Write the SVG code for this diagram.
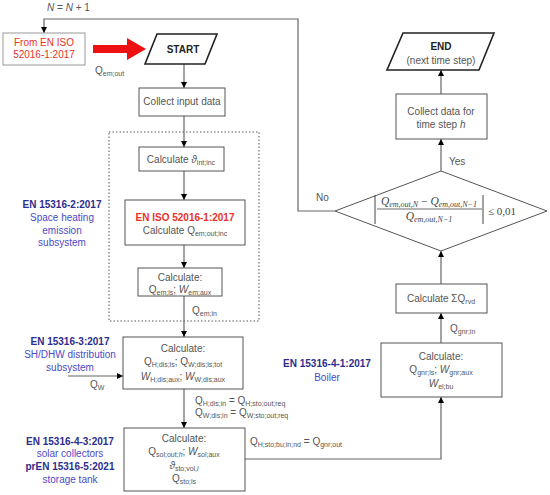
<svg xmlns="http://www.w3.org/2000/svg" width="550" height="495" viewBox="0 0 550 495">
<defs>
<marker id="ah" viewBox="0 0 10 10" refX="10" refY="5" markerWidth="6" markerHeight="6" orient="auto" markerUnits="userSpaceOnUse"><path d="M0,0 L10,5 L0,10 z" fill="#000"/></marker>
<style>
text{font-family:"Liberation Sans",Arial,sans-serif;font-size:10px;fill:#555}
.c{text-anchor:middle}
.b{font-weight:bold}
.box{fill:#fff;stroke:#555;stroke-width:1}
.par{fill:#fff;stroke:#222;stroke-width:1.6}
.ln{fill:none;stroke:#666;stroke-width:1.2}
.blue{fill:#4a4ac8}
.dblue{fill:#2c2e8c;font-weight:bold}
.red{fill:#e8322a}
.s{font-size:7px}
.i{font-style:italic}
.m{font-family:"Liberation Serif","DejaVu Serif",serif;font-style:italic;fill:#444}
</style>
</defs>
<rect width="550" height="495" fill="#fff"/>

<g id="emission-group">
<rect x="109" y="132" width="150" height="189" fill="none" stroke="#555" stroke-width="1" stroke-dasharray="1.5,2"/>
</g>

<g id="connectors">
<polyline class="ln" points="335,211 298,211 298,19 44,19 44,33" marker-end="url(#ah)"/>
<path d="M93,45 L127,45 L127,38 L146,49 L127,60 L127,53 L93,53 z" fill="#ee1111"/>
<line class="ln" x1="184" y1="64" x2="184" y2="88" marker-end="url(#ah)"/>
<line class="ln" x1="184" y1="116" x2="184" y2="147" marker-end="url(#ah)"/>
<line class="ln" x1="184" y1="171" x2="184" y2="200" marker-end="url(#ah)"/>
<line class="ln" x1="184" y1="245" x2="184" y2="268" marker-end="url(#ah)"/>
<line class="ln" x1="184" y1="296" x2="184" y2="337" marker-end="url(#ah)"/>
<line class="ln" x1="68" y1="376" x2="123" y2="376" marker-end="url(#ah)"/>
<line class="ln" x1="184" y1="389" x2="184" y2="428" marker-end="url(#ah)"/>
<polyline class="ln" points="245,459 441,459 441,397" marker-end="url(#ah)"/>
<line class="ln" x1="441" y1="343" x2="441" y2="313" marker-end="url(#ah)"/>
<line class="ln" x1="441" y1="284" x2="441" y2="251" marker-end="url(#ah)"/>
<line class="ln" x1="441" y1="171" x2="441" y2="139" marker-end="url(#ah)"/>
<line class="ln" x1="441" y1="94" x2="441" y2="70" marker-end="url(#ah)"/>
<text x="47" y="11" class="i">N<tspan font-style="normal"> = </tspan>N<tspan font-style="normal"> + 1</tspan></text>
<text x="95" y="74">Q<tspan class="s" dy="2">em;out</tspan></text>
<text x="192" y="314">Q<tspan class="s" dy="2">em;in</tspan></text>
<text x="90" y="388">Q<tspan class="s" dy="2">W</tspan></text>
<text x="195" y="404">Q<tspan class="s" dy="2">H;dis;in</tspan><tspan dy="-2"> = Q</tspan><tspan class="s" dy="2">H;sto;out;req</tspan></text>
<text x="195" y="416">Q<tspan class="s" dy="2">W;dis;in</tspan><tspan dy="-2"> = Q</tspan><tspan class="s" dy="2">W;sto;out;req</tspan></text>
<text x="250" y="445">Q<tspan class="s" dy="2">H;sto;bu;in;nd</tspan><tspan dy="-2"> = Q</tspan><tspan class="s" dy="2">gnr;out</tspan></text>
<text x="450" y="332">Q<tspan class="s" dy="2">gnr;in</tspan></text>
<text x="449" y="165">Yes</text>
<text x="316" y="201">No</text>
</g>

<g id="from-iso">
<rect x="3" y="33" width="82" height="32" fill="#fff" stroke="#999" stroke-width="1"/>
<text x="44" y="46" class="c red">From EN ISO</text>
<text x="44" y="58" class="c red">52016-1:2017</text>
</g>

<g id="start">
<polygon class="par" points="157,34 217,34 205,64 145,64"/>
<text x="183" y="53" class="c b" style="fill:#222">START</text>
</g>

<g id="collect-input">
<rect class="box" x="139" y="88" width="86" height="28"/>
<text x="182" y="105" class="c">Collect input data</text>
</g>

<g id="calc-theta">
<rect class="box" x="139" y="147" width="85" height="24"/>
<text x="181" y="163" class="c">Calculate <tspan class="i">ϑ</tspan><tspan class="s" dy="2">int;inc</tspan></text>
</g>

<g id="calc-qem-inc">
<rect class="box" x="125" y="200" width="120" height="45"/>
<text x="185" y="221" class="c red b">EN ISO 52016-1:2017</text>
<text x="185" y="234" class="c">Calculate Q<tspan class="s" dy="2">em;out;inc</tspan></text>
</g>

<g id="calc-emls">
<rect class="box" x="138" y="268" width="84" height="28"/>
<text x="180" y="281" class="c">Calculate:</text>
<text x="180" y="293" class="c">Q<tspan class="s" dy="2">em;ls</tspan><tspan dy="-2">; </tspan><tspan class="i">W</tspan><tspan class="s" dy="2">em;aux</tspan></text>
</g>

<g id="calc-dis">
<rect class="box" x="123" y="337" width="120" height="52"/>
<text x="183" y="352" class="c">Calculate:</text>
<text x="183" y="365" class="c">Q<tspan class="s" dy="2">H;dis;ls</tspan><tspan dy="-2">; Q</tspan><tspan class="s" dy="2">W;dis;ls;tot</tspan></text>
<text x="183" y="380" class="c"><tspan class="i">W</tspan><tspan class="s" dy="2">H;dis;aux</tspan><tspan dy="-2">; </tspan><tspan class="i">W</tspan><tspan class="s" dy="2">W;dis;aux</tspan></text>
</g>

<g id="calc-sol">
<rect class="box" x="124" y="428" width="121" height="63"/>
<text x="184" y="442" class="c">Calculate:</text>
<text x="184" y="455" class="c">Q<tspan class="s" dy="2">sol;out;<tspan class="i">h</tspan></tspan><tspan dy="-2">; </tspan><tspan class="i">W</tspan><tspan class="s" dy="2">sol;aux</tspan></text>
<text x="184" y="469" class="c"><tspan class="i">ϑ</tspan><tspan class="s" dy="2">sto;vol,<tspan class="i">i</tspan></tspan></text>
<text x="184" y="482" class="c">Q<tspan class="s" dy="2">sto;ls</tspan></text>
</g>

<g id="calc-gnr">
<rect class="box" x="381" y="343" width="121" height="54"/>
<text x="441" y="360" class="c">Calculate:</text>
<text x="441" y="373" class="c">Q<tspan class="s" dy="2">gnr;ls</tspan><tspan dy="-2">; </tspan><tspan class="i">W</tspan><tspan class="s" dy="2">gnr;aux</tspan></text>
<text x="441" y="387" class="c"><tspan class="i">W</tspan><tspan class="s" dy="2">el;bu</tspan></text>
</g>

<g id="calc-rvd">
<rect class="box" x="396" y="284" width="91" height="29"/>
<text x="441" y="302" class="c">Calculate ΣQ<tspan class="s" dy="2">rvd</tspan></text>
</g>

<g id="decision">
<polygon fill="#fff" stroke="#555" stroke-width="1" points="441,171 547,211 441,251 335,211"/>
<text x="429" y="205" class="m c" style="font-size:11.5px">Q<tspan font-size="8" dy="2">em,out,N</tspan><tspan dy="-2" font-style="normal"> − </tspan>Q<tspan font-size="8" dy="2">em,out,N−1</tspan></text>
<line x1="377" y1="209" x2="482" y2="209" stroke="#444" stroke-width="0.8"/>
<text x="429" y="220" class="m c" style="font-size:11.5px">Q<tspan font-size="8" dy="2">em,out,N−1</tspan></text>
<line x1="375" y1="195" x2="375" y2="224" stroke="#444" stroke-width="1"/>
<line x1="483" y1="195" x2="483" y2="224" stroke="#444" stroke-width="1"/>
<text x="488" y="215" style="font-family:'Liberation Serif',serif;font-size:11px;fill:#444">≤ 0,01</text>
</g>

<g id="collect-data">
<rect class="box" x="396" y="94" width="91" height="45"/>
<text x="441" y="115" class="c">Collect data for</text>
<text x="441" y="128" class="c">time step <tspan class="i">h</tspan></text>
</g>

<g id="end">
<polygon class="par" points="403,33 494,33 479,70 387,70"/>
<text x="441" y="50" class="c b" style="fill:#222">END</text>
<text x="441" y="64" class="c">(next time step)</text>
</g>

<g id="std-labels">
<text x="62" y="208" class="c dblue">EN 15316-2:2017</text>
<text x="62" y="221" class="c blue">Space heating</text>
<text x="62" y="234" class="c blue">emission</text>
<text x="62" y="246" class="c blue">subsystem</text>
<text x="70" y="345" class="c dblue">EN 15316-3:2017</text>
<text x="70" y="358" class="c blue">SH/DHW distribution</text>
<text x="70" y="371" class="c blue">subsystem</text>
<text x="70" y="445" class="c dblue">EN 15316-4-3:2017</text>
<text x="70" y="457" class="c blue">solar collectors</text>
<text x="70" y="470" class="c dblue">prEN 15316-5:2021</text>
<text x="70" y="483" class="c blue">storage tank</text>
<text x="327" y="367" class="c dblue">EN 15316-4-1:2017</text>
<text x="327" y="381" class="c blue">Boiler</text>
</g>
</svg>
